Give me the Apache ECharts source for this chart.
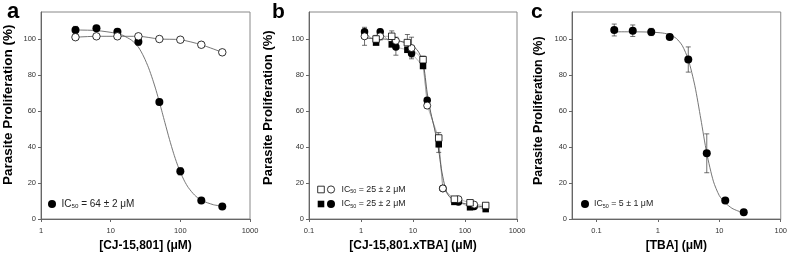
<!DOCTYPE html>
<html><head><meta charset="utf-8">
<script src="https://cdn.jsdelivr.net/npm/echarts@6/dist/echarts.min.js"></script>
<style>html,body{margin:0;padding:0;background:#fff}#c{width:790px;height:260px}</style>
</head><body><div id="c"></div>
<script>
// ---------- Panel a : CJ-15,801 ----------
const aConc = [3.125, 6.25, 12.5, 25, 50, 100, 200, 400];
const aFilled = [105, 106, 104, 98.5, 65, 26.5, 10.3, 7];
const aFilledErr = [2, 1, 1.5, 2, 1.5, 2, 1, 1];
const aOpen = [101, 101.5, 101.5, 101.5, 100, 99.6, 96.8, 92.6];
const aOpenErr = [1, 1, 1, 1, 1, 1, 1.5, 1];
const aFitX = [3.125, 6.25, 12.5, 15, 20, 25, 30, 35, 40, 45, 50, 55, 60, 70, 80, 90, 100, 115, 130, 160, 200, 300, 400];
const aFitY = [105, 104.7, 103.1, 102, 99.3, 95.5, 90, 84, 77.6, 71.3, 65.0, 59.1, 53.6, 44.1, 36.5, 30.6, 26.0, 21, 17.5, 13.3, 10.4, 7.9, 7.2];
const aXTicks = [1, 10, 100, 1000];

// ---------- Panel b : CJ-15,801.xTBA ----------
const bCircConc = [1.17, 2.34, 4.69, 9.375, 18.75, 37.5, 75, 150];
const bCircOpen = [101.5, 101.5, 99, 95, 63, 17, 11, 8];
const bCircOpenErr = [5, 2, 2, 6, 1.5, 1, 1, 1];
const bCircFilled = [104, 104, 95.5, 92, 66, 17, 9.5, 7];
const bCircFilledErr = [1.5, 1.5, 4.5, 2, 1.5, 1, 1, 1];
const bSqConc = [1.95, 3.9, 7.8, 15.6, 31.25, 62.5, 125, 250];
const bSqOpen = [100, 101.5, 98, 88.5, 45, 11, 9, 7.5];
const bSqOpenErr = [2, 3, 4.5, 2, 3, 1, 1, 1];
const bSqFilled = [98, 97, 94, 85, 41.5, 9.5, 6.5, 5.5];
const bSqFilledErr = [1, 1, 1, 1, 4.5, 1, 1, 1];
const bFitX = [1, 4, 8, 12, 15.6, 18.75, 22, 26, 31.25, 35, 40, 45, 50, 62.5, 100, 150, 250];
const bFitY = [100.5, 99.6, 97.5, 94, 87, 70, 59, 50, 38, 28, 19.5, 14.5, 12.5, 10, 8.5, 7.5, 6.5];
const bXTicks = [0.1, 1, 10, 100, 1000];

// ---------- Panel c : TBA ----------
const cConc = [0.195, 0.39, 0.78, 1.56, 3.125, 6.25, 12.5, 25];
const cVal = [105, 104.6, 103.9, 101.1, 88.6, 36.5, 10.3, 3.7];
const cErr = [3.3, 3.2, 2, 1, 7, 10.8, 1, 1];
const cFitX = [0.195, 0.39, 0.78, 1.2, 1.56, 2, 2.5, 3.125, 4, 5, 6.25, 8, 10, 12.5, 16, 20, 25];
const cFitY = [104, 104, 103.8, 103.3, 102.4, 100.3, 96.3, 88.6, 74, 55.6, 36.5, 21, 13, 9, 6, 4.5, 3.5];
const cXTicks = [0.1, 1, 10, 100];

const yTicks = [0, 20, 40, 60, 80, 100];
const yTitle = 'Parasite Proliferation (%)';
const legendA = ['IC{s|50} = 64 ± 2 μM'];
const legendB = ['IC{s|50} = 25 ± 2 μM', 'IC{s|50} = 25 ± 2 μM'];
const legendC = ['IC{s|50} = 5 ± 1 μM'];

const FONT = 'Liberation Sans, Arial, sans-serif';
const grids = [
  {left: 41, top: 12, width: 209, height: 207},
  {left: 309, top: 12, width: 208, height: 207},
  {left: 572, top: 12, width: 209, height: 207}
];
const xRanges = [[1, 1000], [0.1, 1000], [0.04, 100]];
const xTickSets = [aXTicks, bXTicks, cXTicks];
const xNames = ['[CJ-15,801] (μM)', '[CJ-15,801.xTBA] (μM)', '[TBA] (μM)'];

const fmt = v => String(+(+v).toPrecision(6));

const xAxis = grids.map((g, i) => ({
  gridIndex: i, type: 'log', logBase: 10, min: xRanges[i][0], max: xRanges[i][1],
  axisLine: {show: true, lineStyle: {color: '#666', width: 1}},
  axisTick: {show: true, length: 3, customValues: xTickSets[i], lineStyle: {color: '#666'}},
  axisLabel: {customValues: xTickSets[i], fontSize: 7.5, color: '#333', margin: 8, fontFamily: FONT, formatter: fmt},
  minorTick: {show: false}, splitLine: {show: false},
  name: xNames[i], nameLocation: 'middle', nameGap: 15,
  nameTextStyle: {fontWeight: 'bold', fontSize: 12, color: '#000', fontFamily: FONT}
}));
const yAxis = grids.map((g, i) => ({
  gridIndex: i, type: 'value', min: 0, max: 115,
  axisLine: {show: true, lineStyle: {color: '#666', width: 1}},
  axisTick: {show: true, length: 3, customValues: yTicks, lineStyle: {color: '#666'}},
  axisLabel: {customValues: yTicks, fontSize: 7.5, color: '#333', margin: 5, fontFamily: FONT},
  splitLine: {show: false}
}));

function pairs(xs, ys) { return xs.map((x, i) => [x, ys[i]]); }
function errSeries(gi, xs, ys, es) {
  return {
    type: 'custom', xAxisIndex: gi, yAxisIndex: gi, z: 2, silent: true,
    data: xs.map((x, i) => [x, ys[i] - es[i], ys[i] + es[i]]),
    encode: {x: 0, y: [1, 2]},
    renderItem: (params, api) => {
      const lo = api.coord([api.value(0), api.value(1)]);
      const hi = api.coord([api.value(0), api.value(2)]);
      const w = 2.5, st = {stroke: '#333', lineWidth: 0.7};
      return {type: 'group', children: [
        {type: 'line', shape: {x1: lo[0], y1: lo[1], x2: hi[0], y2: hi[1]}, style: st},
        {type: 'line', shape: {x1: lo[0] - w, y1: lo[1], x2: lo[0] + w, y2: lo[1]}, style: st},
        {type: 'line', shape: {x1: hi[0] - w, y1: hi[1], x2: hi[0] + w, y2: hi[1]}, style: st}
      ]};
    }
  };
}
function lineSeries(gi, xs, ys, color, w, sm) {
  return {type: 'line', xAxisIndex: gi, yAxisIndex: gi, data: pairs(xs, ys), showSymbol: false,
    smooth: sm === undefined ? 0.25 : sm, z: 1, silent: true,
    lineStyle: {color: color || '#666', width: w || 0.9}};
}
function scat(gi, xs, ys, filled, symbol, size, z) {
  return {type: 'scatter', xAxisIndex: gi, yAxisIndex: gi, data: pairs(xs, ys), symbol: symbol,
    symbolSize: size, z: z, silent: true,
    itemStyle: {color: filled ? '#000' : '#fff', borderColor: '#000', borderWidth: filled ? 0 : 0.8, opacity: 1}};
}
function merged(x1, y1, x2, y2) {
  const m = pairs(x1, y1).concat(pairs(x2, y2)).sort((p, q) => p[0] - q[0]);
  return [m.map(p => p[0]), m.map(p => p[1])];
}
const bOpenM = merged(bCircConc, bCircOpen, bSqConc, bSqOpen);
const bFillM = merged(bCircConc, bCircFilled, bSqConc, bSqFilled);

const series = [
  lineSeries(0, aFitX, aFitY, '#666'),
  lineSeries(0, aConc, aOpen, '#666'),
  errSeries(0, aConc, aFilled, aFilledErr),
  errSeries(0, aConc, aOpen, aOpenErr),
  scat(0, aConc, aFilled, true, 'circle', 8, 3),
  scat(0, aConc, aOpen, false, 'circle', 7.5, 4),
  lineSeries(1, bOpenM[0], bOpenM[1], '#999', 0.7, false),
  lineSeries(1, bFillM[0], bFillM[1], '#999', 0.7, false),
  lineSeries(1, bFitX, bFitY, '#555', 0.9),
  errSeries(1, bCircConc, bCircFilled, bCircFilledErr),
  errSeries(1, bSqConc, bSqFilled, bSqFilledErr),
  errSeries(1, bCircConc, bCircOpen, bCircOpenErr),
  errSeries(1, bSqConc, bSqOpen, bSqOpenErr),
  scat(1, bCircConc, bCircFilled, true, 'circle', 7.5, 3),
  scat(1, bSqConc, bSqFilled, true, 'rect', 6.5, 3),
  scat(1, bCircConc, bCircOpen, false, 'circle', 7, 4),
  scat(1, bSqConc, bSqOpen, false, 'rect', 6.5, 4),
  lineSeries(2, cFitX, cFitY, '#666'),
  errSeries(2, cConc, cVal, cErr),
  scat(2, cConc, cVal, true, 'circle', 8, 3)
];

function rich(fs) { return {s: {fontSize: fs * 0.62, verticalAlign: 'bottom', padding: [fs * 0.45, 0, 0, 0], fontFamily: FONT, color: '#222'}}; }
function legText(x, y, t, fs) {
  return {type: 'text', x: x, y: y, style: {text: t, fontSize: fs, fill: '#222', fontFamily: FONT, rich: rich(fs), align: 'left', verticalAlign: 'middle'}};
}
function dot(x, y, filled) {
  return {type: 'circle', shape: {cx: x, cy: y, r: filled ? 4 : 3.6},
    style: {fill: filled ? '#000' : '#fff', stroke: '#000', lineWidth: filled ? 0 : 0.8}};
}
function sq(x, y, filled) {
  return {type: 'rect', shape: {x: x - 3.3, y: y - 3.3, width: 6.6, height: 6.6},
    style: {fill: filled ? '#000' : '#fff', stroke: '#000', lineWidth: filled ? 0 : 0.8}};
}
function letter(x, t, fs) {
  return {type: 'text', x: x, y: 12, style: {text: t, fontSize: fs, fontWeight: 'bold', fill: '#000', fontFamily: FONT, verticalAlign: 'middle'}};
}
function yName(x, fs) {
  return {type: 'text', x: x, y: 185, rotation: Math.PI / 2,
    style: {text: yTitle, fontSize: fs, fontWeight: 'bold', fill: '#000', fontFamily: FONT, align: 'left', verticalAlign: 'middle'}};
}
const graphic = [
  letter(7, 'a', 22), letter(272, 'b', 21), letter(531, 'c', 21),
  yName(8.5, 13.5), yName(268, 13), yName(539, 12.5),
  dot(52, 204, true), legText(61.5, 204, legendA[0], 10),
  sq(321, 189.5, false), dot(331, 189.5, false), legText(341.5, 189.5, legendB[0], 8.8),
  sq(321, 204, true), dot(331, 204, true), legText(341.5, 204, legendB[1], 8.8),
  dot(585, 204, true), legText(594, 204, legendC[0], 8.8)
];

const chart = echarts.init(document.getElementById('c'), null, {renderer: 'canvas'});
chart.setOption({
  animation: false,
  backgroundColor: '#fff',
  grid: grids.map(g => Object.assign({show: true, borderColor: '#888', borderWidth: 1, containLabel: false}, g)),
  xAxis: xAxis, yAxis: yAxis, series: series, graphic: graphic
});
</script></body></html>
